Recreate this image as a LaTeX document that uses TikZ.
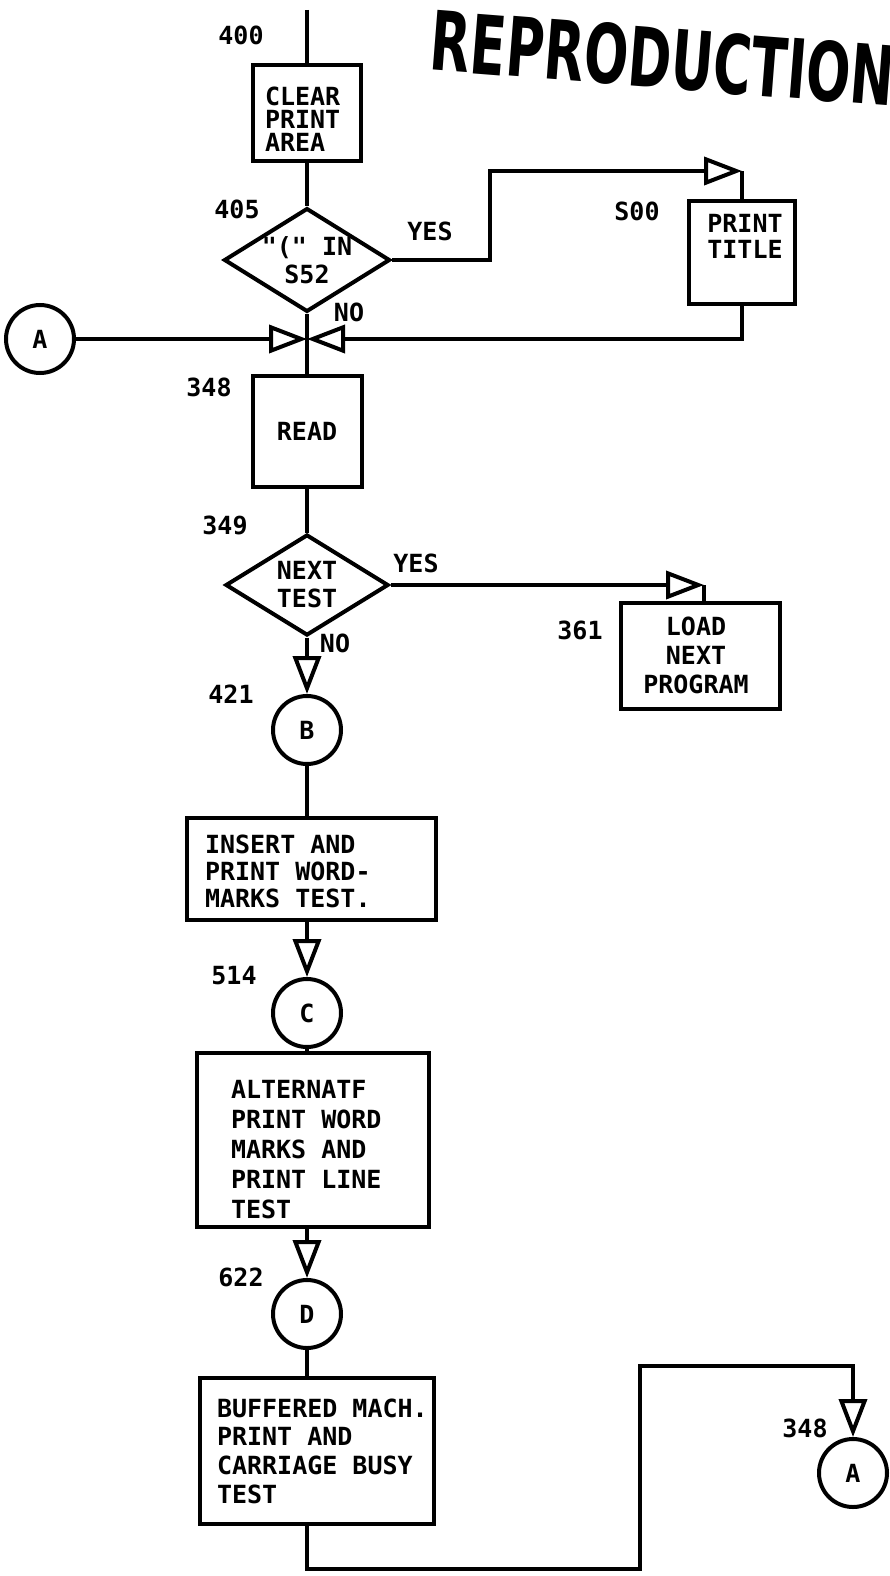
\documentclass[tikz,border=0pt]{standalone}
\usepackage{fontspec}
\newfontfamily\lf{DejaVu Sans Mono}
\newfontfamily\rf{DejaVu Sans}
\usetikzlibrary{shapes.geometric,arrows.meta,calc}
\begin{document}
\begin{tikzpicture}[x=1pt,y=-1pt,line width=4pt,
  every node/.style={font=\lf\bfseries\fontsize{25}{28}\selectfont, inner sep=0pt},
  box/.style={draw, rectangle, line width=4pt},
  dec/.style={draw, diamond, line width=4pt, aspect=1.6, align=center},
  conn/.style={draw, circle, line width=4pt, minimum size=68pt},
  lbl/.style={},
  txt/.style={align=left},
  tri/.style={-{Triangle[open,length=38pt,width=28pt]}}]
\useasboundingbox (0,0) rectangle (890,1576);

% title stamp
\node[anchor=west, rotate=-4.5, xscale=0.635, transform shape, font=\rf\bfseries\fontsize{82}{82}\selectfont] (rep) at (430,40) {REPRODUCTION};

% nodes
\coordinate (top) at (307,10);
\node[box, minimum width=108pt, minimum height=96pt] (clear) at (307,113) {};
\node[txt, anchor=west, font=\lf\bfseries\fontsize{25}{23}\selectfont] (cleart) at (263,119) {CLEAR\\PRINT\\AREA};
\node[dec, minimum width=164pt, minimum height=101pt] (d1) at (307,260) {"(" IN\\S52};
\node[box, minimum width=106pt, minimum height=103pt] (pt) at (742,252) {};
\node[align=center, font=\lf\bfseries\fontsize{25}{26}\selectfont] (ptt) at (745,236) {PRINT\\TITLE};
\coordinate (j) at (307,339);
\node[conn] (a1) at (40,339) {A};
\node[box, minimum width=109pt, minimum height=111pt] (read) at (307,431) {READ};
\node[dec, minimum width=163pt, minimum height=101pt] (d2) at (307,585) {NEXT\\TEST};
\node[box, minimum width=159pt, minimum height=106pt] (load) at (700,656) {};
\node[align=center, font=\lf\bfseries\fontsize{25}{29}\selectfont] (loadt) at (696,655) {LOAD\\NEXT\\PROGRAM};
\node[conn] (b) at (307,730) {B};
\node[box, minimum width=249pt, minimum height=102pt] (ins) at (311,869) {};
\node[txt, anchor=west, font=\lf\bfseries\fontsize{25}{27}\selectfont] (inst) at (203,871) {INSERT AND\\PRINT WORD-\\MARKS TEST.};
\node[conn] (c) at (307,1013) {C};
\node[box, minimum width=232pt, minimum height=174pt] (alt) at (313,1140) {};
\node[txt, anchor=west, font=\lf\bfseries\fontsize{25}{30}\selectfont] (altt) at (229,1150) {ALTERNATF\\PRINT WORD\\MARKS AND\\PRINT LINE\\TEST};
\node[conn] (dd) at (307,1314) {D};
\node[box, minimum width=234pt, minimum height=146pt] (buf) at (317,1451) {};
\node[txt, anchor=west, font=\lf\bfseries\fontsize{25}{28.7}\selectfont] (buft) at (215,1451) {BUFFERED MACH.\\PRINT AND\\CARRIAGE BUSY\\TEST};
\node[conn] (a2) at (853,1473) {A};

% labels
\node[lbl] (l400) at (241,35) {400};
\node[lbl] (l405) at (237,209) {405};
\node[lbl] (lyes1) at (430,231) {YES};
\node[lbl] (l500) at (637,211) {S00};
\node[lbl] (lno1) at (349,312) {NO};
\node[lbl] (l348) at (209,387) {348};
\node[lbl] (l349) at (225,525) {349};
\node[lbl] (lyes2) at (416,563) {YES};
\node[lbl] (l361) at (580,630) {361};
\node[lbl] (lno2) at (335,643) {NO};
\node[lbl] (l421) at (231,694) {421};
\node[lbl] (l514) at (234,976) {514};
\node[lbl] (l622) at (241,1277) {622};
\node[lbl] (l348b) at (805,1428) {348};

% connectors
\coordinate (k1) at (490,171);
\coordinate (c1) at (742,171);
\coordinate (c2) at (704,585);
\coordinate (k2) at (640,1569);
\coordinate (k3) at (640,1366);

\draw (top) -- (clear.north);
\draw (clear.south) -- (d1.north);
\draw[tri] (d1.east) -| (k1) -- (c1);
\draw (c1) -- (pt.north);
\draw[tri] (pt.south) |- (j);
\draw[tri] (a1.east) -- (j);
\draw (d1.south) -- (read.north);
\draw (read.south) -- (d2.north);
\draw[tri] (d2.east) -- (c2);
\draw (c2) -- (c2 |- load.north);
\draw[tri] (d2.south) -- (b.north);
\draw (b.south) -- (b.south |- ins.north);
\draw[tri] (c.north |- ins.south) -- (c.north);
\draw (c.south) -- (c.south |- alt.north);
\draw[tri] (dd.north |- alt.south) -- (dd.north);
\draw (dd.south) -- (dd.south |- buf.north);
\draw[tri] (dd.south |- buf.south) |- (k2) -- (k3) -| (a2.north);
\end{tikzpicture}
\end{document}
